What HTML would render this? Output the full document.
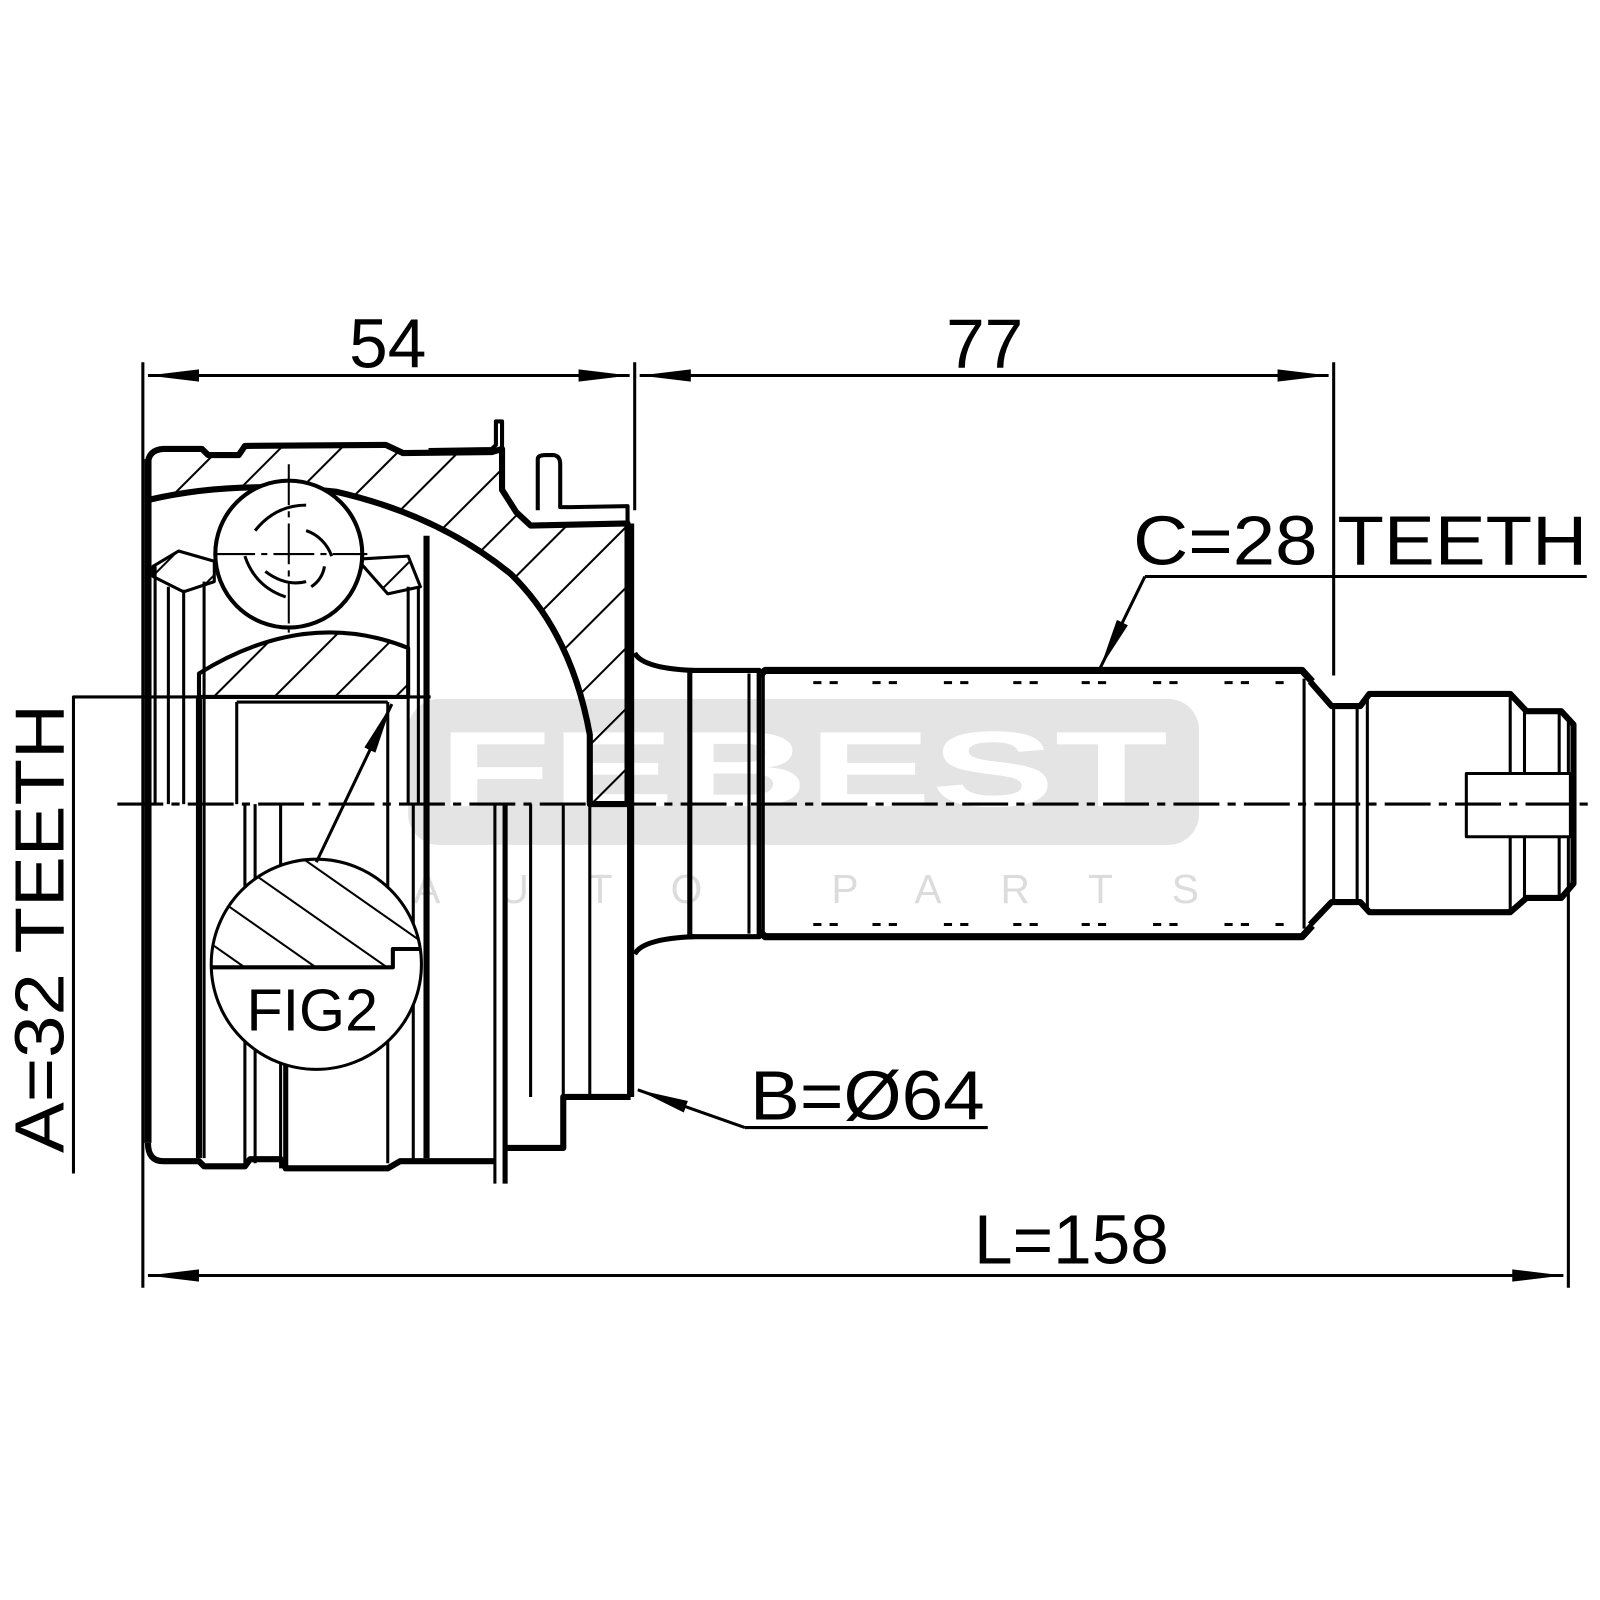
<!DOCTYPE html>
<html><head><meta charset="utf-8"><style>html,body{margin:0;padding:0;background:#fff;}svg{display:block}</style></head>
<body>
<svg width="1600" height="1600" viewBox="0 0 1568 1568" xmlns="http://www.w3.org/2000/svg" font-family="Liberation Sans, Arial, sans-serif">
<defs>
<pattern id="h" width="42" height="42" patternUnits="userSpaceOnUse" patternTransform="rotate(45)">
<line x1="0" y1="0" x2="0" y2="42" stroke="#000" stroke-width="4"/>
</pattern>
<pattern id="h2" width="40" height="40" patternUnits="userSpaceOnUse" patternTransform="rotate(-55)">
<line x1="0" y1="0" x2="0" y2="40" stroke="#000" stroke-width="4"/>
</pattern>
<marker id="a2" viewBox="0 0 50 14" refX="50" refY="7" markerWidth="50" markerHeight="14" markerUnits="userSpaceOnUse" orient="auto"><path d="M0,1 L50,7 L0,13 Z" fill="#000"/></marker>
</defs>

<!-- watermark -->
<rect x="400" y="685" width="775" height="143" rx="30" fill="#e4e4e4"/>
<text x="787" y="790" text-anchor="middle" font-size="105" font-weight="bold" fill="#fff" textLength="715" lengthAdjust="spacingAndGlyphs">FEBEST</text>
<text x="790" y="885" text-anchor="middle" font-size="40" fill="#dcdcdc" textLength="770" lengthAdjust="spacing">AUTO PARTS</text>

<g fill="none" stroke="#000" stroke-linejoin="round">
<!-- dimension lines -->
<line x1="140" y1="355" x2="140" y2="1262" stroke-width="3"/>
<line x1="622" y1="355" x2="622" y2="500" stroke-width="3"/>
<line x1="1307" y1="355" x2="1307" y2="662" stroke-width="3"/>
<line x1="1537" y1="705" x2="1537" y2="1262" stroke-width="3"/>
<line x1="617" y1="368" x2="145" y2="368" stroke-width="3" marker-end="url(#a2)"/>
<line x1="145" y1="368" x2="617" y2="368" stroke-width="3" marker-end="url(#a2)"/>
<line x1="627" y1="368" x2="1302" y2="368" stroke-width="3" marker-end="url(#a2)"/>
<line x1="1302" y1="368" x2="627" y2="368" stroke-width="3" marker-end="url(#a2)"/>
<line x1="145" y1="1250" x2="1532" y2="1250" stroke-width="3" marker-end="url(#a2)"/>
<line x1="1532" y1="1250" x2="145" y2="1250" stroke-width="3" marker-end="url(#a2)"/>
<!-- C leader -->
<polyline points="1555,565 1122,565" stroke-width="3"/>
<line x1="1122" y1="565" x2="1078" y2="655" stroke-width="3" marker-end="url(#a2)"/>
<!-- B leader -->
<polyline points="968,1105 730,1105" stroke-width="3"/>
<line x1="730" y1="1105" x2="625" y2="1068" stroke-width="3" marker-end="url(#a2)"/>
<!-- A leader -->
<polyline points="72,1150 72,683 422,683" stroke-width="3"/>

<!-- boot clamp tabs -->
<path d="M420,441 L482,440 L486,436 L486,413 L492,413 L492,445" stroke-width="4"/>
<path d="M527,500 L527,450 Q527,446 535,446 L543,446 Q549,447 549,455 L549,497 L560,497 L615,496 L615,513" stroke-width="4"/>

<!-- housing hatched upper section -->
<path d="M145,455 Q145,441 160,440 L198,440 L204,446 L234,446 L240,437 L378,436 L395,444 L482,443 L492,440 L492,480 L506,502 L520,515 L615,513 L615,788 L578,788 L578,720 Q560,620 500,562 Q430,505 330,482 Q230,470 145,490 Z" fill="url(#h)" stroke-width="6"/>
<path d="M195,683 L195,660 Q300,595 400,635 L400,683 Z" fill="url(#h)" stroke-width="4"/>
<path d="M150,555 L175,540 L210,550 L210,570 L180,580 L150,565 Z" fill="url(#h)" stroke-width="3"/>
<path d="M350,548 L400,545 L412,575 L380,582 Z" fill="url(#h)" stroke-width="3"/>
<!-- ball -->
<circle cx="283" cy="543" r="72" fill="#fff" stroke-width="4"/>
<path d="M250,520 Q270,495 300,495 M240,545 Q250,575 280,585 M300,520 A40,40 0 0 1 325,545 M260,560 Q280,575 300,570 M305,575 A30,30 0 0 0 318,555" stroke-width="3"/>
<line x1="283" y1="455" x2="283" y2="620" stroke-width="2" stroke-dasharray="40,6,6,6"/>
<line x1="210" y1="543" x2="360" y2="543" stroke-width="2" stroke-dasharray="40,6,6,6"/>
<!-- upper verticals -->
<g stroke-width="3">
<line x1="152" y1="555" x2="152" y2="788"/><line x1="165" y1="575" x2="165" y2="788"/><line x1="180" y1="578" x2="180" y2="788"/>
<line x1="200" y1="570" x2="200" y2="788"/><line x1="232" y1="688" x2="232" y2="788"/>
<line x1="400" y1="575" x2="400" y2="788"/><line x1="410" y1="575" x2="410" y2="788"/>
<line x1="232" y1="688" x2="380" y2="688"/><line x1="380" y1="688" x2="380" y2="788"/>
</g>
<line x1="145" y1="450" x2="145" y2="1120" stroke-width="7"/>
<line x1="195" y1="683" x2="195" y2="1135" stroke-width="6"/>
<line x1="418" y1="525" x2="418" y2="1135" stroke-width="6"/>
<!-- lower verticals -->
<g stroke-width="3">
<line x1="200" y1="788" x2="200" y2="1135"/><line x1="240" y1="788" x2="240" y2="1140"/>
<line x1="250" y1="788" x2="250" y2="1140"/><line x1="275" y1="788" x2="275" y2="1145"/>
<line x1="380" y1="788" x2="380" y2="1140"/><line x1="405" y1="788" x2="405" y2="1140"/>
<line x1="485" y1="788" x2="485" y2="1160"/><line x1="552" y1="788" x2="552" y2="1125"/>
<line x1="520" y1="788" x2="520" y2="1075"/><line x1="578" y1="788" x2="578" y2="1075"/>
</g>
<line x1="495" y1="788" x2="495" y2="1160" stroke-width="5"/>
<line x1="280" y1="1040" x2="280" y2="1145" stroke-width="5"/>
<line x1="618" y1="513" x2="618" y2="1075" stroke-width="7"/>
<!-- bottom contour -->
<path d="M145,1120 Q145,1138 160,1138 L195,1138 L200,1143 L240,1143 L245,1136 L275,1136 L280,1145 L380,1145 L392,1138 L485,1138 M495,1125 L552,1125 L552,1075 L618,1075" stroke-width="6"/>
<!-- neck -->
<path d="M622,640 Q630,655 680,657" stroke-width="5"/>
<path d="M622,935 Q630,920 680,918" stroke-width="5"/>

<!-- FIG2 -->
<circle cx="310" cy="945" r="103" fill="#fff" stroke-width="3"/>
<clipPath id="c"><circle cx="310" cy="945" r="102"/></clipPath>
<path d="M200,948 L385,948 L385,930 L415,930 L415,830 L200,830 Z" fill="url(#h2)" stroke="none" clip-path="url(#c)"/>
<path d="M208,948 L385,948 L385,930 L412,930" stroke-width="4"/>
<line x1="310" y1="845" x2="384" y2="690" stroke-width="3" marker-end="url(#a2)"/>

<!-- shaft -->
<rect x="676" y="657" width="68" height="261" stroke-width="5"/>
<line x1="734" y1="660" x2="734" y2="915" stroke-width="3"/>
<path d="M744,662 L750,657 L1276,657 L1286,668 M744,913 L750,918 L1276,918 L1286,907" stroke-width="7"/>
<line x1="748" y1="662" x2="748" y2="913" stroke-width="3"/>
<line x1="1278" y1="665" x2="1278" y2="910" stroke-width="3"/>
<path d="M1284,668 L1305,692 L1333,692 L1342,680 L1480,680 L1496,697 L1530,697 L1542,710 L1542,866 L1530,880 L1496,880 L1480,894 L1342,894 L1333,884 L1305,884 L1284,906" stroke-width="6"/>
<g stroke-width="3">
<line x1="1307" y1="692" x2="1307" y2="884"/><line x1="1330" y1="692" x2="1330" y2="884"/><line x1="1340" y1="682" x2="1340" y2="892"/>
<line x1="1480" y1="682" x2="1480" y2="892"/><line x1="1494" y1="698" x2="1494" y2="880"/><line x1="1528" y1="698" x2="1528" y2="880"/>
</g>
<rect x="1437" y="758" width="102" height="62" fill="#fff" stroke-width="3"/>
<!-- spline dots -->
<g stroke-width="3">
<path d="M797,669h8m8,0h8M855,669h8m8,0h8M925,669h8m8,0h8M993,669h8m8,0h8M1060,669h8m8,0h8M1130,669h8m8,0h8M1200,669h8m8,0h8M1250,669h8"/>
<path d="M797,906h8m8,0h8M855,906h8m8,0h8M925,906h8m8,0h8M993,906h8m8,0h8M1060,906h8m8,0h8M1130,906h8m8,0h8M1200,906h8m8,0h8M1250,906h8"/>
</g>
<!-- centerline -->
<line x1="115" y1="788" x2="1560" y2="788" stroke-width="3" stroke-dasharray="45,8,8,8"/>
</g>

<g fill="#000" font-size="68">
<text x="380" y="360" text-anchor="middle">54</text>
<text x="965" y="360" text-anchor="middle">77</text>
<text x="1333" y="553" text-anchor="middle" textLength="445" lengthAdjust="spacingAndGlyphs">C=28 TEETH</text>
<text x="850" y="1097" text-anchor="middle" textLength="230" lengthAdjust="spacingAndGlyphs">B=Ø64</text>
<text x="1050" y="1238" text-anchor="middle">L=158</text>
<text x="306" y="1010" text-anchor="middle" font-size="58">FIG2</text>
<text transform="translate(62,910) rotate(-90)" text-anchor="middle" textLength="440" lengthAdjust="spacingAndGlyphs">A=32 TEETH</text>
</g>
</svg>
</body></html>
